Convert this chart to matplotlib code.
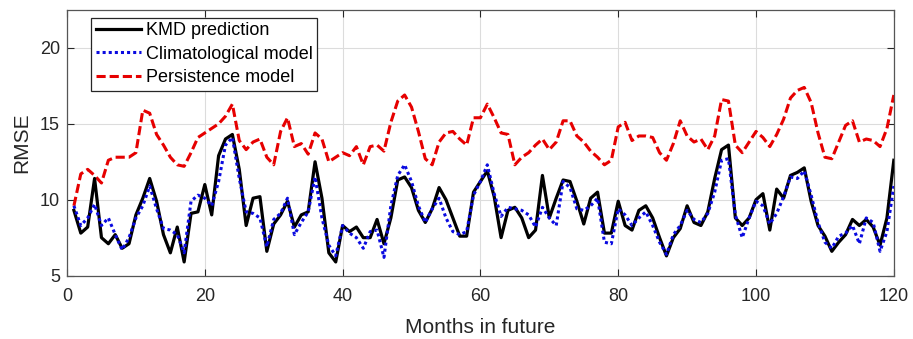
import numpy as np
import matplotlib.pyplot as plt

plt.rcParams['font.family'] = ['Liberation Sans', 'DejaVu Sans']

months = np.arange(1, 121)

kmd = [9.3, 7.8, 8.2, 11.4, 7.5, 7.1, 7.7, 6.8, 7.1, 9.0,
       10.1, 11.4, 9.9, 7.7, 6.5, 8.2, 5.9, 9.1, 9.2, 11.0,
       9.0, 12.9, 14.0, 14.3, 12.0, 8.3, 10.1, 10.2, 6.6, 8.4,
       9.0, 9.9, 8.2, 9.0, 9.2, 12.5, 10.1, 6.5, 5.9, 8.3,
       7.9, 8.2, 7.5, 7.5, 8.7, 7.1, 8.8, 11.3, 11.5, 10.8,
       9.3, 8.5, 9.4, 10.8, 10.0, 8.8, 7.6, 7.6, 10.5, 11.2,
       11.9, 10.2, 7.5, 9.3, 9.5, 8.8, 7.5, 8.0, 11.6, 8.8,
       10.1, 11.3, 11.2, 9.9, 8.4, 10.1, 10.5, 7.8, 7.8, 9.9,
       8.3, 8.0, 9.3, 9.6, 8.8, 7.5, 6.3, 7.5, 8.1, 9.6,
       8.5, 8.3, 9.2, 11.4, 13.3, 13.6, 8.8, 8.3, 8.8, 10.0,
       10.4, 8.0, 10.7, 10.1, 11.6, 11.8, 12.1, 9.9, 8.3, 7.6,
       6.6, 7.2, 7.7, 8.7, 8.3, 8.7, 8.2, 7.0, 8.8, 12.6]

clim = [9.6, 8.3, 8.8, 9.7, 8.3, 8.8, 7.7, 6.7, 7.5, 8.8,
        9.6, 10.9, 9.4, 8.1, 8.0, 7.7, 6.5, 9.9, 10.3, 10.1,
        9.6, 11.2, 13.6, 14.1, 11.4, 9.2, 9.1, 8.8, 6.9, 8.7,
        9.1, 10.1, 7.7, 8.5, 9.2, 11.5, 8.8, 7.0, 6.3, 8.3,
        7.8, 7.5, 6.8, 7.9, 8.0, 6.2, 9.6, 11.6, 12.3, 11.2,
        9.6, 8.5, 9.4, 10.1, 8.8, 7.9, 7.7, 7.9, 10.3, 11.2,
        12.3, 10.4, 8.9, 9.5, 9.4, 9.3, 9.0, 8.2, 9.5, 8.8,
        8.3, 11.2, 10.8, 9.4, 9.3, 9.6, 10.1, 7.2, 7.1, 9.4,
        9.0, 8.3, 8.8, 9.2, 8.3, 7.2, 6.4, 7.7, 8.3, 9.3,
        8.7, 8.5, 9.1, 10.5, 12.6, 12.7, 9.0, 7.5, 8.8, 9.9,
        9.6, 8.4, 9.1, 10.2, 11.5, 11.4, 11.9, 10.3, 8.5, 7.2,
        6.8, 7.6, 7.8, 8.3, 7.1, 8.8, 8.5, 6.6, 7.9, 10.9]

pers = [9.6, 11.7, 12.0, 11.6, 11.1, 12.6, 12.8, 12.8, 12.8, 13.1,
        15.9, 15.7, 14.3, 13.6, 12.8, 12.3, 12.2, 13.1, 14.1, 14.4,
        14.7, 15.0, 15.5, 16.3, 13.9, 13.3, 13.8, 14.0, 12.8, 12.3,
        14.5, 15.4, 13.5, 13.7, 13.0, 14.4, 14.0, 12.5, 12.8, 13.1,
        12.9, 13.5, 12.3, 13.5, 13.6, 13.2, 15.1, 16.5, 16.9, 16.1,
        14.5, 12.7, 12.3, 13.8, 14.4, 14.5, 14.0, 13.6, 15.4, 15.4,
        16.3, 15.4, 14.4, 14.3, 12.3, 12.8, 13.1, 13.6, 14.0, 13.3,
        13.8, 15.2, 15.2, 14.2, 13.8, 13.2, 12.8, 12.3, 12.6, 14.8,
        15.1, 13.9, 14.2, 14.2, 14.1, 13.1, 12.6, 13.7, 15.2, 14.2,
        13.8, 14.0, 13.3, 14.2, 16.6, 16.5, 13.6, 13.1, 13.8, 14.5,
        14.1, 13.5, 14.3, 15.3, 16.7, 17.2, 17.4, 16.4, 14.4, 12.8,
        12.7, 13.8, 14.9, 15.2, 13.8, 14.0, 13.9, 13.5, 14.7, 16.9]

fig = plt.figure(figsize=(9.13, 3.39), dpi=100)
ax = fig.add_axes([0.0734, 0.187, 0.9056, 0.7835])

ax.plot(months, kmd, color='black', lw=2.3, label='KMD prediction', zorder=3)
ax.plot(months, clim, color='#0a0ae0', lw=2.2, linestyle=(0, (1, 1)),
        label='Climatological model', zorder=4)
ax.plot(months, pers, color='#e60000', lw=2.2, linestyle=(0, (3, 1.3)),
        label='Persistence model', zorder=2)

ax.set_xlim(0, 120)
ax.set_ylim(5, 22.5)
ax.set_xticks(np.arange(0, 121, 20))
ax.set_yticks([5, 10, 15, 20])
ax.grid(True, color='#dcdcdc', lw=0.8)
ax.set_axisbelow(True)
ax.tick_params(direction='in', top=True, right=True, labelsize=13,
               colors='#262626', length=5)
ax.tick_params(axis='x', pad=9)
ax.tick_params(axis='y', pad=5)
for s in ax.spines.values():
    s.set_color('#555555')
    s.set_linewidth(0.9)

ax.set_xlabel('Months in future', fontsize=15, color='#262626', labelpad=9)
ax.set_ylabel('RMSE', fontsize=15, color='#262626', labelpad=6)

leg = ax.legend(loc='upper left', bbox_to_anchor=(0.029, 0.970),
                borderaxespad=0, fontsize=13, frameon=True, fancybox=False,
                edgecolor='#262626', framealpha=1, handlelength=2.5,
                handletextpad=0.3, borderpad=0.25, labelspacing=0.35)
leg.get_frame().set_linewidth(0.9)

fig.savefig('out.png', dpi=100)
